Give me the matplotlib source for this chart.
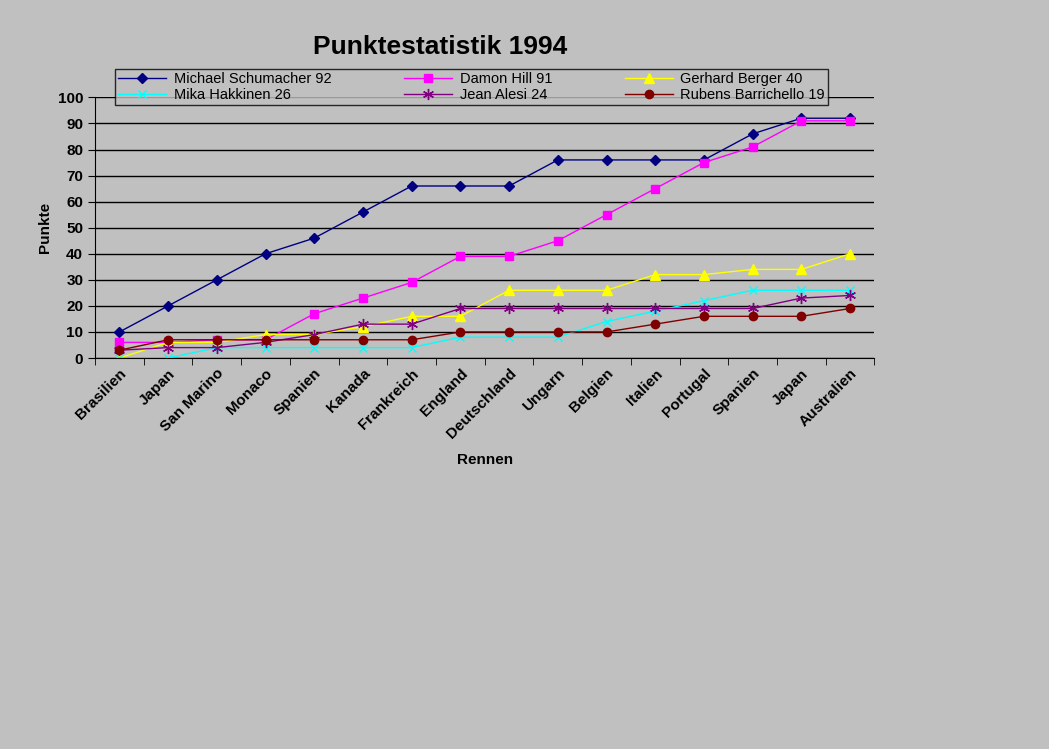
import matplotlib
matplotlib.use("Agg")
import matplotlib.pyplot as plt
import numpy as np

races = ["Brasilien", "Japan", "San Marino", "Monaco", "Spanien", "Kanada", "Frankreich",
         "England", "Deutschland", "Ungarn", "Belgien", "Italien", "Portugal", "Spanien",
         "Japan", "Australien"]
schumacher = [10, 20, 30, 40, 46, 56, 66, 66, 66, 76, 76, 76, 76, 86, 92, 92]
hill = [6, 6, 7, 7, 17, 23, 29, 39, 39, 45, 55, 65, 75, 81, 91, 91]
berger = [0, 6, 6, 9, 9, 12, 16, 16, 26, 26, 26, 32, 32, 34, 34, 40]
hakkinen = [0, 0, 4, 4, 4, 4, 4, 8, 8, 8, 14, 18, 22, 26, 26, 26]
alesi = [3, 4, 4, 6, 9, 13, 13, 19, 19, 19, 19, 19, 19, 19, 23, 24]
barrichello = [3, 7, 7, 7, 7, 7, 7, 10, 10, 10, 10, 13, 16, 16, 16, 19]

plt.rcParams["font.family"] = "Liberation Sans"
bg = "#C0C0C0"
fig = plt.figure(figsize=(10.49, 7.49), dpi=100, facecolor=bg)
ax = fig.add_axes([0.0906, 0.522, 0.743, 0.348], facecolor=bg)
x = np.arange(len(races))

series = [
    ("Michael Schumacher 92", schumacher, "#000080", "D", 5),
    ("Damon Hill 91", hill, "#FF00FF", "s", 6),
    ("Gerhard Berger 40", berger, "#FFFF00", "^", 7),
    ("Mika Hakkinen 26", hakkinen, "#00FFFF", "x", 6),
    ("Jean Alesi 24", alesi, "#800080", (6, 2, 0), 8),
    ("Rubens Barrichello 19", barrichello, "#800000", "o", 6),
]
handles = []
for label, vals, col, mk, ms in series:
    h, = ax.plot(x, vals, color=col, marker=mk, markersize=ms, lw=1, label=label,
                 markeredgecolor=col, markerfacecolor=col)
    handles.append(h)

ax.set_xlim(-0.5, len(races) - 0.5)
ax.set_ylim(0, 100)
ax.set_yticks(range(0, 101, 10))
ax.yaxis.grid(True, color="black", lw=1)
ax.set_axisbelow(True)
ax.set_xticks(x)
ax.set_xticklabels(races, rotation=45, ha="right", rotation_mode="anchor",
                   fontsize=11, fontweight="bold")
ax.set_xticks(np.arange(-0.5, len(races)), minor=True)
ax.tick_params(axis="x", which="major", length=0, pad=6)
ax.tick_params(axis="x", which="minor", length=5, direction="out")
ax.tick_params(axis="y", labelsize=11, length=5, direction="out")
for t in ax.get_yticklabels():
    t.set_fontweight("bold")
for s in ["top", "right"]:
    ax.spines[s].set_visible(False)
ax.set_ylabel("Punkte", fontsize=11, fontweight="bold")
ax.set_xlabel("Rennen", fontsize=11, fontweight="bold", labelpad=8)

fig.text(0.42, 0.937, "Punktestatistik 1994", fontsize=19, fontweight="bold", ha="center", va="center")
order = [0, 3, 1, 4, 2, 5]
leg = fig.legend([handles[i] for i in order], [series[i][0] for i in order],
                 loc="upper left", bbox_to_anchor=(0.103, 0.917), ncol=3, frameon=True,
                 fontsize=10.5, facecolor=bg, edgecolor="black", fancybox=False,
                 borderpad=0.2, labelspacing=0.1, handlelength=3.3, columnspacing=5.0,
                 handletextpad=0.5)
leg.get_frame().set_linewidth(1)
fig.savefig("out.png", dpi=100, facecolor=bg)
